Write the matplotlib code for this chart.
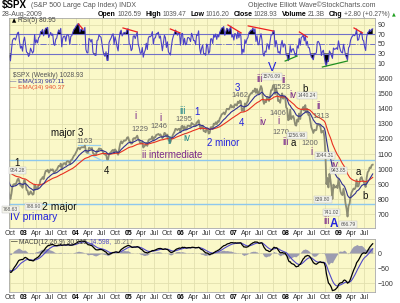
import matplotlib
matplotlib.use('Agg')
import matplotlib.pyplot as plt
import matplotlib.dates as mdates
from matplotlib.ticker import FuncFormatter, FixedLocator
import numpy as np
import pandas as pd

plt.rcParams['font.family'] = ['Liberation Sans', 'DejaVu Sans']

# ---------------- data: weekly closes of $SPX (read / estimated) ----------------
close_2002 = [1172, 1146, 1128, 1133, 1122, 1096, 1104, 1090, 1132, 1164, 1166, 1148, 1147,
              1122, 1111, 1125, 1076, 1073, 1054, 1106, 1083, 1067, 1027, 1007, 989, 990,
              989, 921, 847, 852, 865, 908, 928, 940, 916, 893, 889, 845, 827,
              800, 835, 884, 897, 900, 894, 910, 930, 936, 912, 889, 895, 875]
close_2003 = [908, 927, 901, 861, 856, 829, 834, 851, 841, 829, 833, 895, 863,
              879, 868, 893, 898, 930, 933, 946, 933, 964, 987, 988, 995, 976,
              985, 998, 993, 998, 980, 977, 990, 993, 1008, 1021, 1018, 1036, 997,
              1029, 1038, 1039, 1028, 1050, 1053, 1050, 1035, 1058, 1061, 1074, 1088, 1095]
close_2004 = [1108, 1122, 1139, 1141, 1131, 1142, 1146, 1144, 1145, 1156, 1120, 1109, 1108,
              1141, 1139, 1134, 1140, 1107, 1099, 1095, 1094, 1121, 1123, 1137, 1135, 1134,
              1125, 1112, 1101, 1096, 1101, 1064, 1064, 1099, 1107, 1113, 1123, 1128, 1110,
              1131, 1122, 1108, 1095, 1130, 1167, 1185, 1170, 1182, 1191, 1189, 1194, 1210, 1212]
close_2005 = [1186, 1184, 1168, 1171, 1203, 1206, 1201, 1211, 1222, 1200, 1190, 1172,
              1172, 1181, 1143, 1152, 1157, 1172, 1154, 1189, 1198, 1197, 1201, 1217, 1191,
              1211, 1212, 1228, 1229, 1234, 1226, 1231, 1220, 1205, 1218, 1241, 1237, 1215, 1229,
              1195, 1186, 1179, 1199, 1220, 1235, 1248, 1268, 1265, 1259, 1267, 1268, 1248]
close_2006 = [1285, 1288, 1261, 1284, 1264, 1267, 1288, 1289, 1287, 1282, 1307, 1302, 1295,
              1295, 1289, 1311, 1310, 1325, 1291, 1267, 1280, 1288, 1253, 1251, 1245, 1270,
              1265, 1236, 1240, 1278, 1279, 1267, 1302, 1296, 1311, 1299, 1319, 1314, 1336,
              1349, 1365, 1368, 1377, 1364, 1380, 1401, 1400, 1397, 1409, 1427, 1410, 1418]
close_2007 = [1409, 1431, 1430, 1423, 1449, 1438, 1456, 1451, 1387, 1402, 1386, 1437, 1421,
              1443, 1452, 1484, 1494, 1505, 1505, 1522, 1515, 1536, 1507, 1533, 1503, 1503,
              1530, 1553, 1534, 1459, 1434, 1453, 1445, 1479, 1474, 1453, 1484, 1525, 1527,
              1557, 1561, 1500, 1535, 1510, 1453, 1458, 1441, 1481, 1504, 1468, 1484, 1478]
close_2008 = [1411, 1401, 1325, 1331, 1396, 1332, 1349, 1353, 1331, 1294, 1289, 1330, 1316,
              1370, 1333, 1390, 1398, 1414, 1389, 1426, 1376, 1400, 1361, 1360, 1318, 1278,
              1262, 1240, 1261, 1257, 1260, 1296, 1298, 1292, 1283, 1242, 1252, 1255, 1213,
              1099, 899, 940, 877, 968, 930, 873, 800, 896, 876, 879, 887, 873]
close_2009 = [932, 890, 850, 832, 826, 869, 827, 770, 735, 683, 756, 768, 816,
              843, 857, 870, 866, 877, 929, 883, 887, 919, 940, 946, 922, 918,
              896, 880, 941, 979, 987, 1010, 1005, 1026, 1029]

closes_by_year = {2002: close_2002, 2003: close_2003, 2004: close_2004, 2005: close_2005,
                  2006: close_2006, 2007: close_2007, 2008: close_2008, 2009: close_2009}

view_start = '2002-09-24'
view_end = '2009-09-13'

price_ticks = [700, 800, 900, 1000, 1100, 1200, 1300, 1400, 1500, 1600]
rsi_ticks = [10, 30, 50, 70, 90]
macd_ticks = [-100, -50, 0]

support_levels = [1063, 770]

BLK, BLU, PUR, TEA, GRY = '#111111', '#2222dd', '#7a2a8a', '#2a8a8a', '#666666'
wave_labels = [
    ('1', '2002-11-20', 1040, BLK, 7, 'normal'),
    ('major 3', '2003-11-05', 1238, BLK, 7, 'normal'),
    ('4', '2004-07-30', 987, BLK, 7, 'normal'),
    ('i', '2005-02-18', 1353, PUR, 7, 'normal'),
    ('i', '2005-08-10', 1340, PUR, 7, 'normal'),
    ('iii', '2006-01-12', 1387, TEA, 7, 'normal'),
    ('1', '2006-04-22', 1380, BLU, 7, 'normal'),
    ('iv', '2006-02-15', 1207, TEA, 7, 'normal'),
    ('ii', '2005-10-12', 1187, TEA, 7, 'normal'),
    ('2 minor', '2006-10-22', 1173, BLU, 7, 'normal'),
    ('3', '2007-01-30', 1540, BLU, 7, 'normal'),
    ('4', '2007-02-25', 1307, BLU, 7, 'normal'),
    ('iv', '2007-07-27', 1313, PUR, 7, 'normal'),
    ('V', '2007-09-27', 1672, BLU, 9, 'normal'),
    ('iii', '2007-07-05', 1600, PUR, 7, 'normal'),
    ('ii', '2007-12-15', 1593, PUR, 7, 'normal'),
    ('i', '2007-11-10', 1320, PUR, 7, 'normal'),
    ('iv', '2008-02-20', 1493, PUR, 7, 'normal'),
    ('b', '2008-05-16', 1533, BLK, 7, 'normal'),
    ('ii', '2008-08-15', 1420, PUR, 7, 'normal'),
    ('iii', '2007-12-28', 1180, PUR, 7, 'normal'),
    ('a', '2008-02-22', 1173, BLK, 7, 'normal'),
    ('i', '2008-07-01', 1113, PUR, 7, 'normal'),
    ('iv', '2008-12-10', 1027, PUR, 7, 'normal'),
    ('a', '2009-05-20', 980, BLK, 7, 'normal'),
    ('b', '2009-07-05', 820, BLK, 7, 'normal'),
    ('iii', '2008-10-12', 652, PUR, 7, 'normal'),
    ('A', '2008-11-28', 632, BLU, 8.5, 'bold'),
]
long_labels = [
    ('2 major', '2003-05-12', 747, BLK, 7.5),
    ('IV primary', '2002-10-02', 680, BLU, 7.5),
    ('ii intermediate', '2005-04-08', 1093, PUR, 7),
]
price_figs = [
    ('1163', '2004-03-01', 1182), ('1229', '2005-03-25', 1260), ('1246', '2005-08-05', 1282),
    ('1295', '2006-01-20', 1327), ('1462', '2007-02-15', 1487), ('1523', '2007-12-05', 1540),
    ('1406', '2007-11-10', 1373), ('1313', '2008-09-05', 1353), ('1270', '2007-11-28', 1240),
    ('1200', '2008-06-20', 1173),
]
boxed_figs = [
    ('954.28', '2002-11-20', 993), ('768.63', '2002-10-05', 727), ('788.90', '2003-03-12', 747),
    ('1576.09', '2007-09-27', 1617), ('1440.24', '2008-05-30', 1487), ('1256.98', '2008-03-20', 1220),
    ('1044.31', '2008-10-01', 1087), ('943.85', '2009-01-01', 987), ('839.80', '2008-09-15', 800),
    ('741.02', '2008-11-15', 707), ('666.79', '2009-03-10', 633),
]
trend_lines = [(('2004-01-20', 1160), ('2004-06-20', 1160)),
               (('2004-03-08', 1113), ('2004-07-08', 1053))]
rsi_red = [(('2004-01-20', 92), ('2004-02-20', 81.6)), (('2004-11-25', 83.7), ('2005-03-03', 75.3)),
           (('2005-10-20', 81.6), ('2005-12-28', 73.2)), (('2006-11-25', 90), ('2007-02-25', 73.2)),
           (('2007-04-15', 88), ('2007-10-05', 77.4)), (('2008-04-05', 75.3), ('2008-05-30', 64.7)),
           (('2009-04-20', 83.7), ('2009-06-18', 73.2))]
rsi_green = [(('2007-12-28', 14.2), ('2008-03-20', 24.7)), (('2008-09-12', 1.6), ('2009-03-05', 14.2))]

# ---------------- series ----------------
dates, vals = [], []
for y, v in closes_by_year.items():
    d = pd.date_range(f'{y}-01-01', f'{y}-12-31', freq='W-FRI')[:len(v)]
    dates.extend(d)
    vals.extend(v[:len(d)])
s = pd.Series(np.array(vals, dtype=float), index=pd.DatetimeIndex(dates))

ema13 = s.ewm(span=13, adjust=False).mean()
ema34 = s.ewm(span=34, adjust=False).mean()
macd = s.ewm(span=12, adjust=False).mean() - s.ewm(span=26, adjust=False).mean()
signal = macd.ewm(span=9, adjust=False).mean()
hist = macd - signal
delta = s.diff()
up = delta.clip(lower=0).ewm(alpha=1/5, adjust=False).mean()
dn = (-delta.clip(upper=0)).ewm(alpha=1/5, adjust=False).mean()
rsi = 100 - 100 / (1 + up / dn)

m = s.index >= pd.Timestamp('2002-09-20')
x = s.index[m]

# ---------------- figure ----------------
W, H = 400, 303
fig = plt.figure(figsize=(W / 100, H / 100), dpi=100)
fig.patch.set_facecolor('white')
BG = '#FAF8C8'
GRID = '#E2E0AE'
L, Wd = 9 / W, 366 / W

def fy(py):
    return 1 - py / H

ax_rsi = fig.add_axes([L, fy(68), Wd, 50 / H])
ax = fig.add_axes([L, fy(228), Wd, 160 / H])
ax_m = fig.add_axes([L, fy(292), Wd, 53 / H])

def qfmt(v, pos):
    d = mdates.num2date(v)
    return d.strftime('%y') if d.month == 1 else d.strftime('%b')

for a in (ax_rsi, ax, ax_m):
    a.set_facecolor(BG)
    a.set_xlim(pd.Timestamp(view_start), pd.Timestamp(view_end))
    a.xaxis.set_major_locator(mdates.MonthLocator(bymonth=[1, 4, 7, 10]))
    a.xaxis.set_major_formatter(FuncFormatter(qfmt))
    a.grid(True, color=GRID, lw=0.6)
    a.set_axisbelow(True)
    a.yaxis.tick_right()
    a.tick_params(length=0, labelsize=5, colors='#333333', pad=2)
    for sp in a.spines.values():
        sp.set_color('#A8A8A8')
        sp.set_linewidth(0.6)
ax_rsi.tick_params(labelbottom=False)
for a in (ax, ax_m):
    a.tick_params(axis='x', pad=1.5)

renderer = fig.canvas.get_renderer()

def seq_text(x0, y, pieces):
    """pieces: (text, fontsize, weight, color, gap_px)"""
    xx = x0
    for t, fs, fw, c, gap in pieces:
        txt = fig.text(xx / W, y, t, fontsize=fs, fontweight=fw, color=c, va='center')
        bb = txt.get_window_extent(renderer)
        xx = bb.x1 + gap
    return xx

# ---- RSI ----
r = rsi[m]
ax_rsi.set_ylim(-0.5, 104.7)
ax_rsi.yaxis.set_major_locator(FixedLocator(rsi_ticks))
ax_rsi.axhline(70, color='#7070C8', lw=0.8)
ax_rsi.axhline(30, color='#7070C8', lw=0.8)
ax_rsi.axhline(50, color='#7070C8', lw=0.7, ls='-.')
ax_rsi.fill_between(x, r, 70, where=r > 70, interpolate=True, color='black', lw=0)
ax_rsi.fill_between(x, r, 30, where=r < 30, interpolate=True, color='black', lw=0)
ax_rsi.plot(x, r, color='#4A40C8', lw=0.8)
for (d0, v0), (d1, v1) in rsi_red:
    ax_rsi.plot([pd.Timestamp(d0), pd.Timestamp(d1)], [v0, v1], color='#EE2020', lw=0.9)
for (d0, v0), (d1, v1) in rsi_green:
    ax_rsi.plot([pd.Timestamp(d0), pd.Timestamp(d1)], [v0, v1], color='#209020', lw=0.9, clip_on=False)
fig.text(12 / W, fy(21), '\u25B2', fontsize=4, color='black', va='center', family=['DejaVu Sans'])
fig.text(18 / W, fy(21), 'RSI(5) 80.95', fontsize=4.8, color='#444444', va='center')

# ---- main ----
ax.set_ylim(607, 1673)
ax.yaxis.set_major_locator(FixedLocator(price_ticks))
for lv in support_levels:
    ax.axhline(lv, color='#8EC8EE', lw=1.0)
for (d0, v0), (d1, v1) in trend_lines:
    ax.plot([pd.Timestamp(d0), pd.Timestamp(d1)], [v0, v1], color='#9AD0F0', lw=0.9)
ax.plot(x, s[m], color='#8C8C74', lw=1.3)
ax.plot(x, ema34[m], color='#E83020', lw=0.8)
ax.plot(x, ema13[m], color='#303090', lw=0.8)

fig.text(13 / W, fy(76), '$SPX (Weekly) 1028.93', fontsize=4.8, color='#555555', va='center')
fig.text(10 / W, fy(82), '\u2014 EMA(13) 967.11', fontsize=4.6, color='#333399', va='center')
fig.text(10 / W, fy(88), '\u2014 EMA(34) 940.37', fontsize=4.6, color='#E85030', va='center')

for t, d, p, c, fs, fw in wave_labels:
    ax.text(pd.Timestamp(d), p, t, color=c, fontsize=fs, fontweight=fw, ha='center', va='center', clip_on=False)
for t, d, p, c, fs in long_labels:
    ax.text(pd.Timestamp(d), p, t, color=c, fontsize=fs, ha='left', va='center')
for t, d, p in price_figs:
    ax.text(pd.Timestamp(d), p, t, color=GRY, fontsize=5.5, ha='center', va='center')
for t, d, p in boxed_figs:
    ax.text(pd.Timestamp(d), p, t, color='#555555', fontsize=3.6, ha='center', va='center',
            bbox=dict(boxstyle='square,pad=0.2', fc='#F4F4EC', ec='#BBBBBB', lw=0.3))

# ---- MACD ----
ax_m.set_ylim(-130, 46.7)
ax_m.yaxis.set_major_locator(FixedLocator(macd_ticks))
ax_m.fill_between(x, hist[m], 0, color='#9C9CB0', lw=0)
ax_m.plot(x, signal[m], color='#5048C8', lw=0.8)
ax_m.plot(x, macd[m], color='black', lw=0.9)
seq_text(11, fy(242), [('\u2014', 4.8, 'normal', 'black', 1),
                      ('MACD(12,26,9) 30.815,', 4.8, 'normal', '#444444', 1.5),
                      ('14.598,', 4.8, 'normal', '#5048C8', 1.5),
                      ('16.217', 4.8, 'normal', '#777777', 0)])

for a in (ax, ax_m):
    for lab in a.get_xticklabels():
        if lab.get_text().isdigit():
            lab.set_fontweight('bold')
            lab.set_color('black')

# ---- header ----
fig.text(2 / W, fy(5), '$SPX', fontsize=7, fontweight='bold', color='black', va='center')
fig.text(31 / W, fy(5.5), '(S&P 500 Large Cap Index) INDX', fontsize=5, color='#555555', va='center')
fig.text(375 / W, fy(5.5), 'Objective Elliott Wave\u00a9StockCharts.com', fontsize=5, color='#555555',
         va='center', ha='right')
fig.text(2 / W, fy(14), '28-Aug-2009', fontsize=5, color='#555555', va='center')
B, N = '#000000', '#555555'
end = seq_text(98, fy(14), [('Open', 5, 'bold', B, 1.5), ('1026.59', 4.8, 'normal', N, 4),
                           ('High', 5, 'bold', B, 1.5), ('1039.47', 4.8, 'normal', N, 4),
                           ('Low', 5, 'bold', B, 1.5), ('1016.20', 4.8, 'normal', N, 4),
                           ('Close', 5, 'bold', B, 1.5), ('1028.93', 4.8, 'normal', N, 4),
                           ('Volume', 5, 'bold', B, 1.5), ('21.3B', 4.8, 'normal', N, 4),
                           ('Chg', 5, 'bold', B, 1.5), ('+2.80 (+0.27%)', 4.8, 'normal', N, 2)])
fig.text(end / W, fy(14), '\u25B2', fontsize=3.5, color='#20A020', va='center', family=['DejaVu Sans'])

fig.savefig('out.png', dpi=100)
